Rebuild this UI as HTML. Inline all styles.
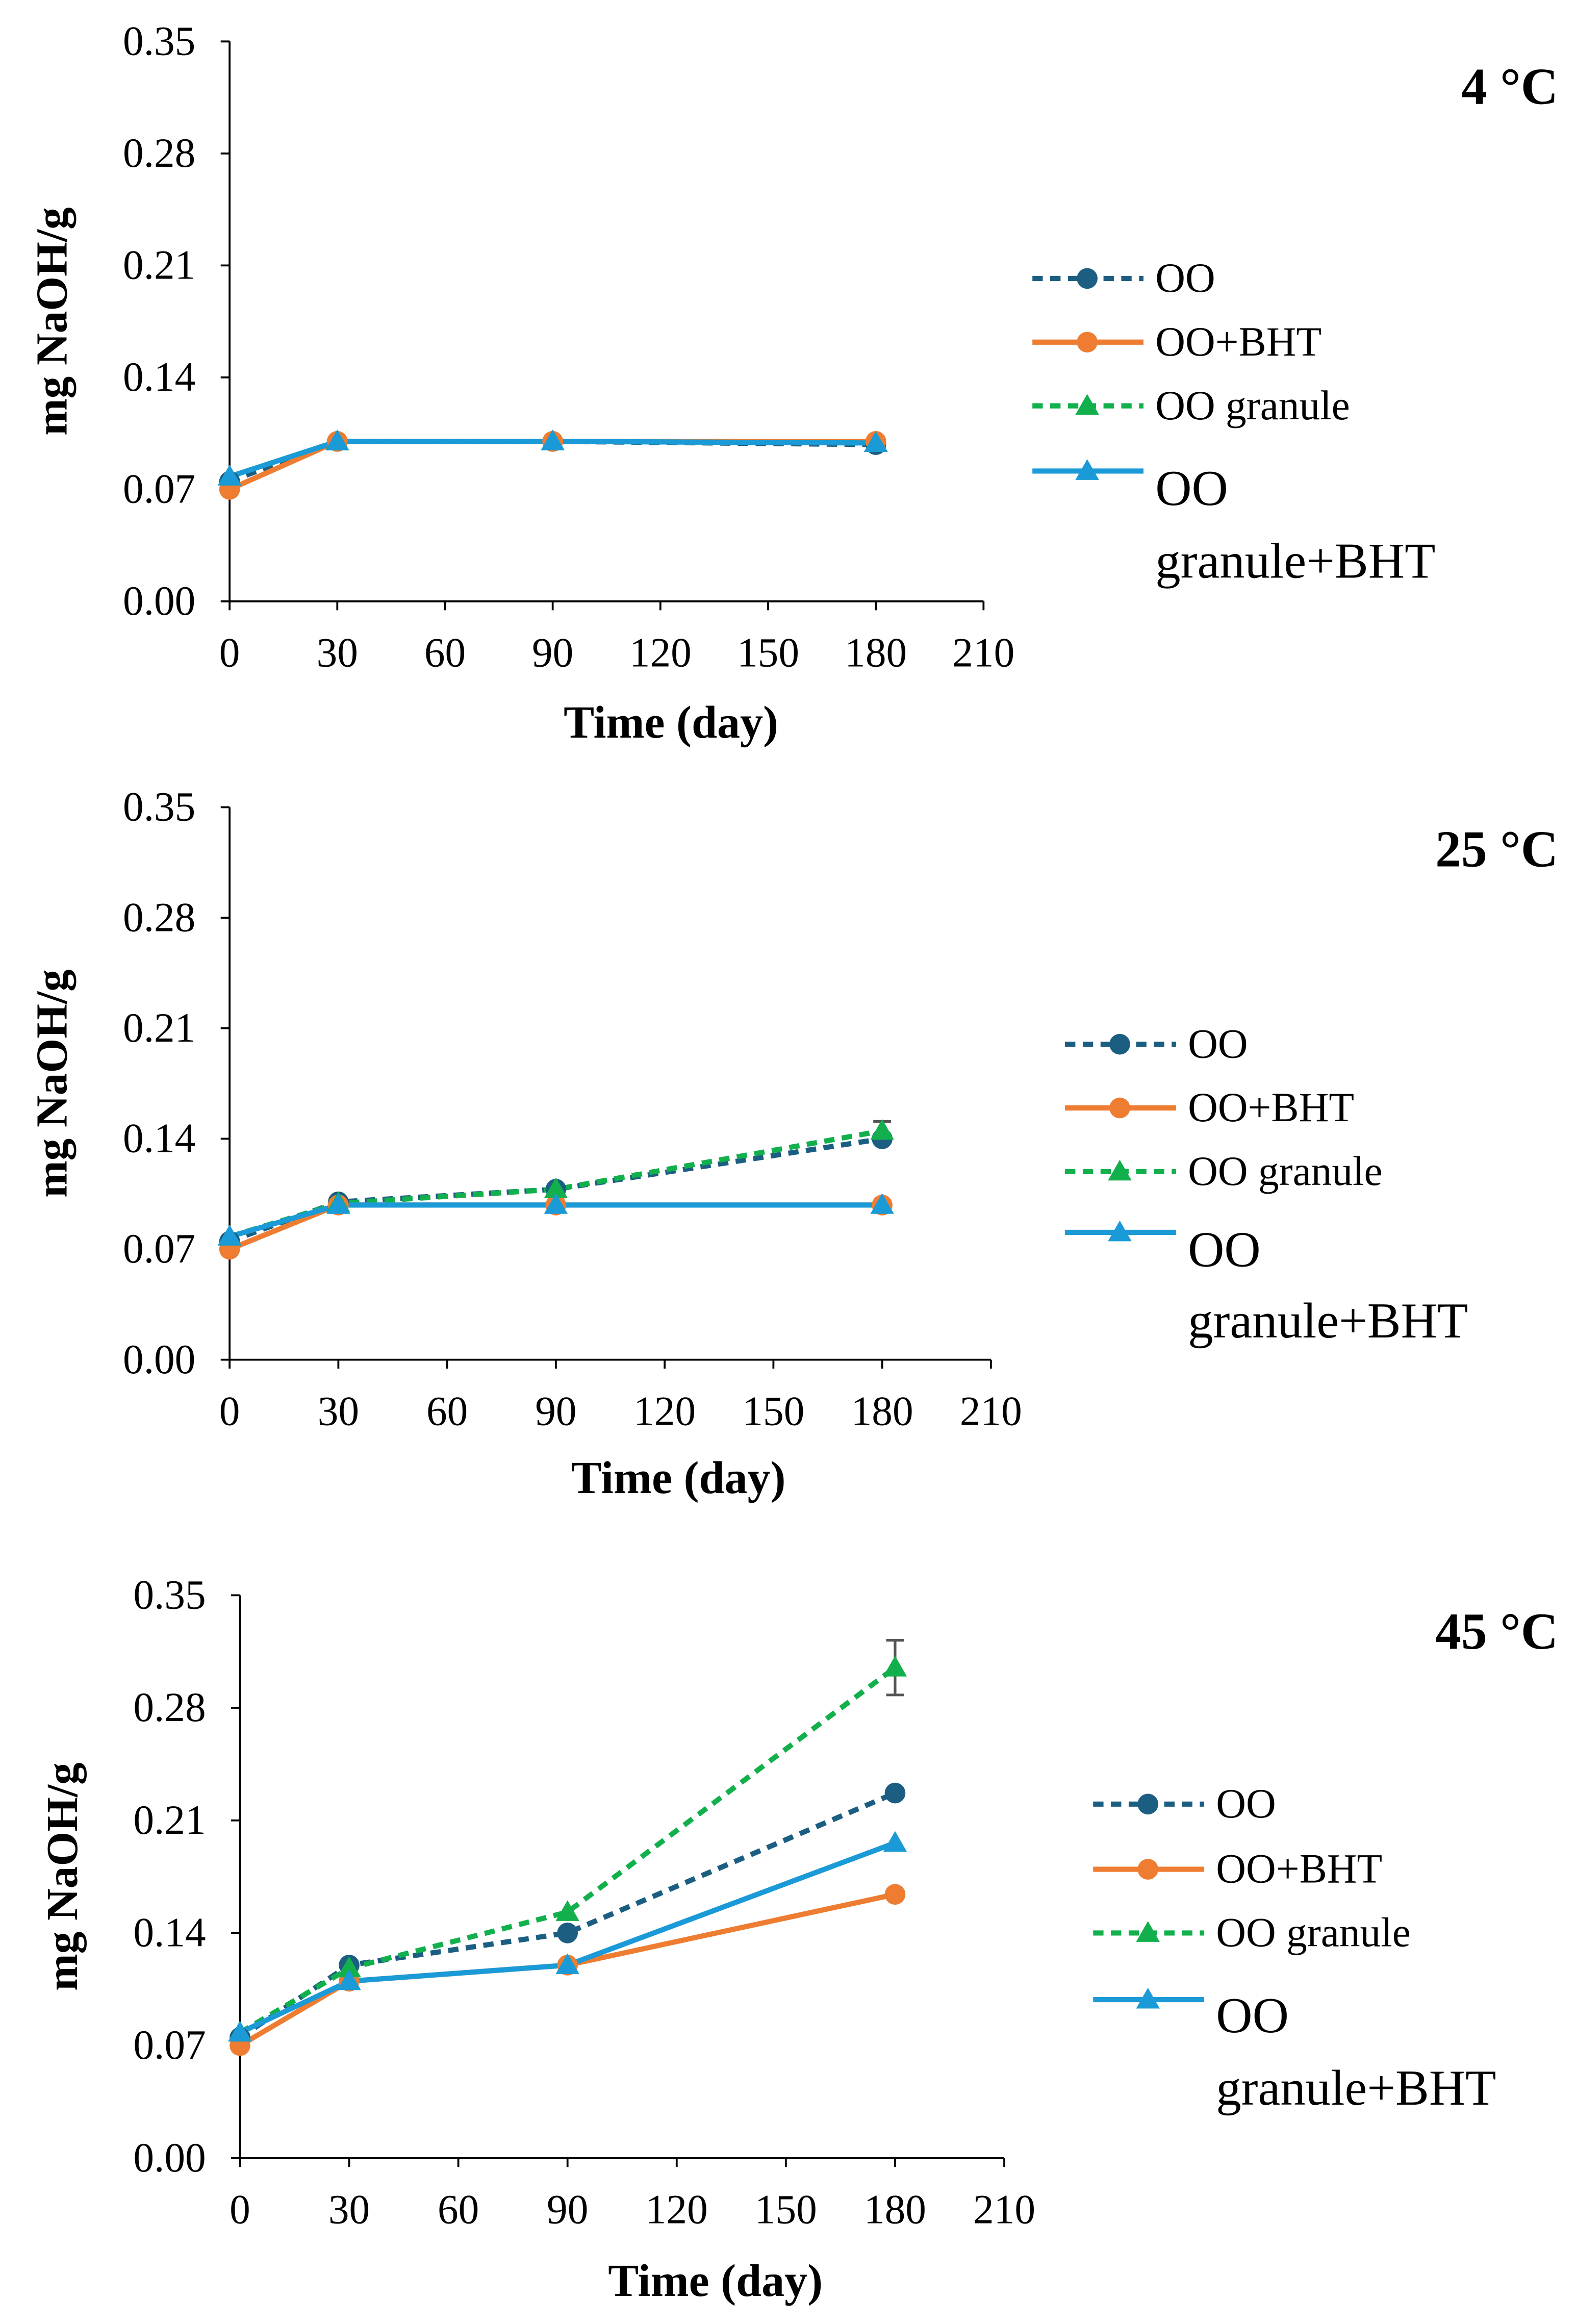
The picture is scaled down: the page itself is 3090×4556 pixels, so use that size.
<!DOCTYPE html>
<html><head><meta charset="utf-8"><style>
html,body{margin:0;padding:0;background:#fff;}
svg{display:block;font-family:"Liberation Serif",serif;}
</style></head><body>
<svg id="chart" width="3090" height="4556" viewBox="0 0 1064 1569" preserveAspectRatio="none" xmlns="http://www.w3.org/2000/svg"></svg>
<script>
const days = [0, 30, 90, 180];
const xTicks = [0, 30, 60, 90, 120, 150, 180, 210];
const yTicks = [0.00, 0.07, 0.14, 0.21, 0.28, 0.35];
const seriesNames = ["OO", "OO+BHT", "OO granule", "OO granule+BHT"];
const temps = ["4 °C", "25 °C", "45 °C"];
const oo4 = [0.075, 0.100, 0.100, 0.098];
const bht4 = [0.070, 0.100, 0.100, 0.100];
const gran4 = [0.078, 0.100, 0.100, 0.099];
const granBht4 = [0.078, 0.100, 0.100, 0.099];
const oo25 = [0.075, 0.100, 0.108, 0.140];
const bht25 = [0.070, 0.098, 0.098, 0.098];
const gran25 = [0.078, 0.099, 0.108, 0.145];
const granBht25 = [0.078, 0.098, 0.098, 0.098];
const oo45 = [0.075, 0.120, 0.140, 0.227];
const bht45 = [0.070, 0.110, 0.120, 0.164];
const gran45 = [0.078, 0.118, 0.153, 0.305];
const granBht45 = [0.078, 0.110, 0.120, 0.196];
const gran25Err = [0, 0, 0, 0.006];
const gran45Err = [0, 0, 0, 0.017];

const NS = "http://www.w3.org/2000/svg";
const svg = document.getElementById("chart");
function mk(tag, attrs, parent){ const e=document.createElementNS(NS,tag); for(const k in attrs) e.setAttribute(k,attrs[k]); (parent||svg).appendChild(e); return e; }

const styles = [
  {color:"#1b5e82", dash:"7,5", marker:"circle"},
  {color:"#ee7d31", dash:"", marker:"circle"},
  {color:"#12b04c", dash:"7,5", marker:"tri"},
  {color:"#1a9ad6", dash:"", marker:"tri"}
];

const panels = [
  {x0:155, x1:664, yTop:28, yBot:406, data:[oo4,bht4,gran4,granBht4], err:null, titleY:70, xTitleX:453, xTitleY:498, legX:697, legY:[188,231,274,318], bigY:[341,390]},
  {x0:155, x1:669, yTop:545, yBot:918, data:[oo25,bht25,gran25,granBht25], err:gran25Err, titleY:585, xTitleX:458, xTitleY:1008, legX:719, legY:[705,748,791,832], bigY:[855,903]},
  {x0:162, x1:678, yTop:1077, yBot:1457, data:[oo45,bht45,gran45,granBht45], err:gran45Err, titleY:1113, xTitleX:483, xTitleY:1550, legX:738, legY:[1218,1262,1305,1350], bigY:[1372,1421]}
];

function marker(g, m, cx, cy, color){
  if(m==="circle") return mk("circle",{cx:cx,cy:cy,r:7,fill:color},g);
  return mk("polygon",{points:`${cx},${cy-8} ${cx+8},${cy+6} ${cx-8},${cy+6}`,fill:color},g);
}

panels.forEach((p,pi)=>{
  const g = mk("g",{});
  
  
  const xs = v => p.x0 + (v/210)*(p.x1-p.x0);
  const ys = v => p.yBot - (v/0.35)*(p.yBot-p.yTop);
  const ya = mk("line",{x1:p.x0,y1:p.yTop,x2:p.x0,y2:p.yBot,stroke:"#000","stroke-width":1.3},g);
  
  
  const xa = mk("line",{x1:p.x0,y1:p.yBot,x2:p.x1,y2:p.yBot,stroke:"#000","stroke-width":1.3},g);
  
  
  yTicks.forEach(t=>{
    const y=ys(t);
    mk("line",{x1:p.x0-6,y1:y,x2:p.x0,y2:y,stroke:"#000","stroke-width":1.3},g);
    const tx=mk("text",{x:p.x0-23,y:y+9,"text-anchor":"end","font-size":28},g);
    tx.textContent=t.toFixed(2);
    
    
  });
  xTicks.forEach(t=>{
    const x=xs(t);
    mk("line",{x1:x,y1:p.yBot,x2:x,y2:p.yBot+6,stroke:"#000","stroke-width":1.3},g);
    const tx=mk("text",{x:x,y:p.yBot+44,"text-anchor":"middle","font-size":28},g);
    tx.textContent=t;
    
    
  });
  const xt=mk("text",{x:p.xTitleX,y:p.xTitleY,"text-anchor":"middle","font-size":31,"font-weight":"bold"},g);
  xt.textContent="Time (day)";
  
  
  const yc=(p.yTop+p.yBot)/2;
  const yt=mk("text",{x:0,y:0,"text-anchor":"middle","font-size":30,"font-weight":"bold",transform:`translate(${p.x0-110},${yc}) rotate(-90)`},g);
  yt.textContent="mg NaOH/g";
  
  
  const tt=mk("text",{x:1052,y:p.titleY,"text-anchor":"end","font-size":35,"font-weight":"bold"},g);
  tt.textContent=temps[pi];
  
  
  p.data.forEach((vals,si)=>{
    const st=styles[si];
    const pts=vals.map((v,i)=>`${xs(days[i])},${ys(v)}`).join(" ");
    const l=mk("polyline",{points:pts,fill:"none",stroke:st.color,"stroke-width":3.5,"stroke-dasharray":st.dash},g);
    
    
  });
  if(p.err){
    const vals=p.data[2];
    p.err.forEach((e,i)=>{
      if(!e) return;
      const x=xs(days[i]), y1=ys(vals[i]+e), y2=ys(vals[i]-e);
      const eb=mk("path",{d:`M${x},${y1}V${y2}M${x-6},${y1}H${x+6}M${x-6},${y2}H${x+6}`,stroke:"#555","stroke-width":1.8,fill:"none"},g);
      
      
    });
  }
  p.data.forEach((vals,si)=>{
    const st=styles[si];
    vals.forEach((v,i)=>{
      const m=marker(g,st.marker,xs(days[i]),ys(v),st.color);
      
      
    });
  });
  seriesNames.forEach((n,si)=>{
    const st=styles[si];
    const y=p.legY[si];
    const lg=mk("g",{},g);
    
    
    mk("line",{x1:p.legX,y1:y,x2:p.legX+75,y2:y,stroke:st.color,"stroke-width":3.5,"stroke-dasharray":st.dash},lg);
    marker(lg,st.marker,p.legX+37,y,st.color);
    if(si<3){
      const t=mk("text",{x:p.legX+83,y:y+9,"font-size":28},lg);
      t.textContent=n;
    } else {
      const t=mk("text",{x:p.legX+83,y:p.bigY[0],"font-size":34},lg);
      t.textContent="OO";
      const t2=mk("text",{x:p.legX+83,y:p.bigY[1],"font-size":34},lg);
      t2.textContent="granule+BHT";
    }
  });
});
</script>
</body></html>
